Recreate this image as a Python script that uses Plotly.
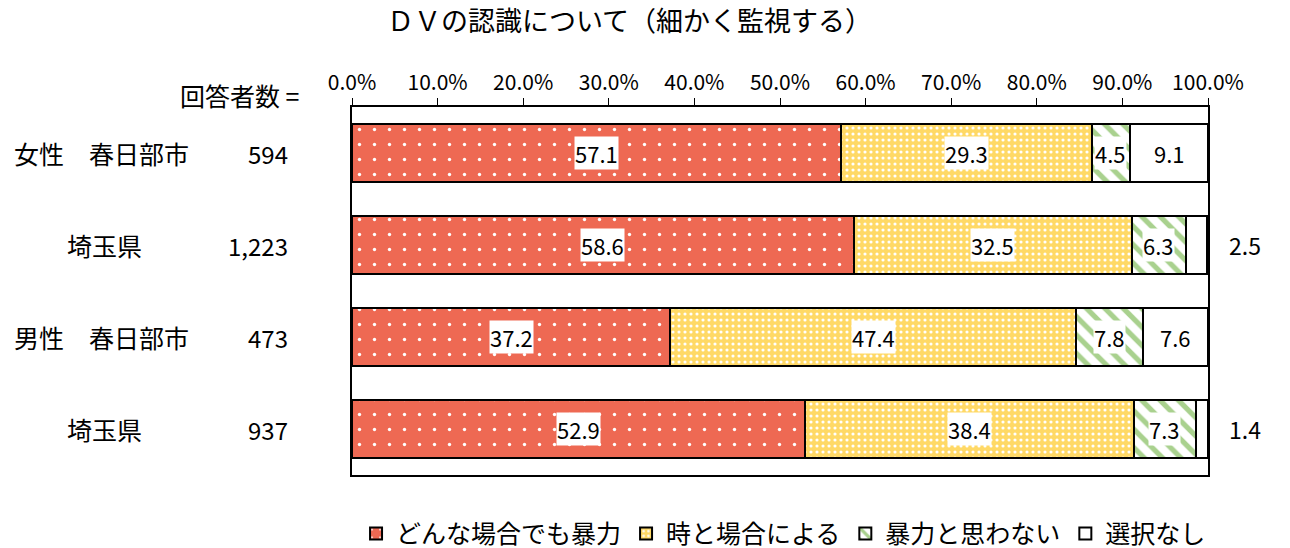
import plotly.graph_objects as go

# ---- data ----
rows = ["女性 春日部市", "女性 埼玉県", "男性 春日部市", "男性 埼玉県"]
row_labels = ["女性　春日部市", "埼玉県", "男性　春日部市", "埼玉県"]
counts = ["594", "1,223", "473", "937"]
series_names = ["どんな場合でも暴力", "時と場合による", "暴力と思わない", "選択なし"]
violence_always = [57.1, 58.6, 37.2, 52.9]
depends = [29.3, 32.5, 47.4, 38.4]
not_violence = [4.5, 6.3, 7.8, 7.3]
no_answer = [9.1, 2.5, 7.6, 1.4]
tick_vals = [0, 10, 20, 30, 40, 50, 60, 70, 80, 90, 100]
tick_text = ["0.0%", "10.0%", "20.0%", "30.0%", "40.0%", "50.0%",
             "60.0%", "70.0%", "80.0%", "90.0%", "100.0%"]
title_text = "ＤＶの認識について（細かく監視する）"
n_label = "回答者数 ="

series = [violence_always, depends, not_violence, no_answer]
patterns = [
    dict(shape=".", bgcolor="#EE6953", fgcolor="#FFFFFF", size=15, solidity=0.04, fillmode="replace"),
    dict(shape=".", bgcolor="#FFD966", fgcolor="#FFFFFF", size=6, solidity=0.22, fillmode="replace"),
    dict(shape="\\", bgcolor="#FFFFFF", fgcolor="#A9D18E", size=13, solidity=0.4, fillmode="replace"),
    dict(shape="", bgcolor="#FFFFFF", fgcolor="#FFFFFF"),
]
base_colors = ["#EE6953", "#FFD966", "#FFFFFF", "#FFFFFF"]

FONT = "Noto Sans CJK JP"
fig = go.Figure()
for name, vals, pat, col in zip(series_names, series, patterns, base_colors):
    fig.add_trace(go.Bar(
        y=rows, x=vals, name=name, orientation="h",
        marker=dict(color=col, pattern=pat, line=dict(color="black", width=2)),
        hoverinfo="skip",
    ))

annotations = []
# value labels
for i, r in enumerate(rows):
    cum = 0.0
    for s in series:
        v = s[i]
        mid = cum + v / 2
        cum += v
        if v < 3:
            annotations.append(dict(x=1.043, xref="paper", y=r, yref="y",
                                    text=f"{v:.1f}", showarrow=False, xanchor="center",
                                    font=dict(size=23, color="black", family=FONT)))
        else:
            annotations.append(dict(x=mid, xref="x", y=r, yref="y",
                                    text=f"{v:.1f}", showarrow=False, xanchor="center",
                                    bgcolor="white", borderpad=0,
                                    font=dict(size=22, color="black", family=FONT)))
# row labels
for i, r in enumerate(rows):
    lab = row_labels[i]
    if lab.startswith("埼玉"):
        annotations.append(dict(x=-0.289, xref="paper", y=r, yref="y", text=lab,
                                showarrow=False, xanchor="center",
                                font=dict(size=25, color="black", family=FONT)))
    else:
        annotations.append(dict(x=-0.397, xref="paper", y=r, yref="y", text=lab,
                                showarrow=False, xanchor="left",
                                font=dict(size=25, color="black", family=FONT)))
    annotations.append(dict(x=-0.072, xref="paper", y=r, yref="y", text=counts[i],
                            showarrow=False, xanchor="right",
                            font=dict(size=24, color="black", family=FONT)))
annotations.append(dict(x=-0.06, xref="paper", y=1.033, yref="paper", text=n_label,
                        showarrow=False, xanchor="right", yanchor="middle",
                        font=dict(size=25, color="black", family=FONT)))

fig.update_layout(
    barmode="stack",
    bargap=0.36,
    width=1290, height=548,
    margin=dict(l=352, r=82, t=107, b=73, autoexpand=False),
    paper_bgcolor="white", plot_bgcolor="white",
    title=dict(text=title_text, x=0.488, xanchor="center", y=0.96, yanchor="middle",
               font=dict(size=27, color="black", family=FONT)),
    font=dict(family=FONT, color="black"),
    showlegend=True,
    legend=dict(orientation="h", xref="container", yref="container",
                x=0.276, xanchor="left", y=0.026, yanchor="middle",
                font=dict(size=25, color="black", family=FONT),
                traceorder="normal", itemwidth=30, bgcolor="rgba(0,0,0,0)"),
    annotations=annotations,
)
fig.update_xaxes(range=[0, 100], side="top", tickvals=tick_vals, ticktext=tick_text,
                 ticks="outside", ticklen=7, tickwidth=1, tickcolor="black",
                 showline=True, linecolor="black", linewidth=2, mirror=True,
                 showgrid=False, zeroline=False, automargin=False,
                 tickfont=dict(size=21, color="black", family=FONT))
fig.update_yaxes(autorange="reversed", showticklabels=False, ticks="",
                 showline=True, linecolor="black", linewidth=2, mirror=True,
                 showgrid=False, automargin=False)

fig.write_html("out.html", config={"displayModeBar": False},
               post_script="document.body.style.margin='0';document.body.style.overflow='hidden';")
